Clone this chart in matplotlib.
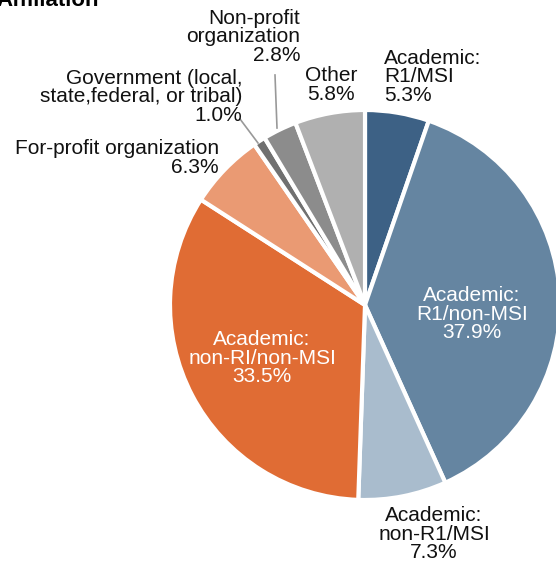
import matplotlib
matplotlib.use("Agg")
import matplotlib.pyplot as plt

plt.rcParams['font.family'] = ['Liberation Sans', 'DejaVu Sans']

labels = ["Academic:\nR1/MSI", "Academic:\nR1/non-MSI", "Academic:\nnon-R1/MSI",
          "Academic:\nnon-RI/non-MSI", "For-profit organization",
          "Government (local,\nstate,federal, or tribal)", "Non-profit\norganization", "Other"]
values = [5.3, 37.9, 7.3, 33.5, 6.3, 1.0, 2.8, 5.8]
colors = ["#3d6185", "#6585a1", "#a9bccd", "#e06c34", "#ea9a73", "#707070", "#8c8c8c", "#b0b0b0"]

W, H = 556, 564
CX, CY, R = 365, 305, 195

fig = plt.figure(figsize=(W / 100, H / 100), dpi=100)
ax = fig.add_axes([0, 0, 1, 1])
ax.pie(values, colors=colors, startangle=90, counterclock=False, radius=1,
       wedgeprops=dict(edgecolor="white", linewidth=3))
ax.set_xlim(-CX / R, (W - CX) / R)
ax.set_ylim(-(H - CY) / R, CY / R)
ax.set_aspect("equal")
ax.axis("off")


def P(px, py):
    return (px - CX) / R, (CY - py) / R


fs = 15
ls = 0.95
dark = "#111111"
lab = [f"{l}\n{v:.1f}%" for l, v in zip(labels, values)]
ax.text(*P(384, 77), lab[0], ha="left", va="center", fontsize=fs, color=dark, linespacing=ls)
ax.text(*P(472, 314), lab[1], ha="center", va="center", fontsize=fs, color="white", linespacing=ls)
ax.text(*P(434, 534), lab[2], ha="center", va="center", fontsize=fs, color=dark, linespacing=ls)
ax.text(*P(262, 358), lab[3], ha="center", va="center", fontsize=fs, color="white", linespacing=ls)
ax.text(*P(219, 158), lab[4], ha="right", va="center", fontsize=fs, color=dark, linespacing=ls, multialignment="right")
ax.text(*P(242, 97), lab[5], ha="right", va="center", fontsize=fs, color=dark, linespacing=ls, multialignment="right")
ax.text(*P(300, 37), lab[6], ha="right", va="center", fontsize=fs, color=dark, linespacing=ls, multialignment="right")
ax.text(*P(331, 85), lab[7], ha="center", va="center", fontsize=fs, color=dark, linespacing=ls)

# leader lines
ax.plot(*zip(P(240, 119), P(258, 143)), color="#999999", lw=1.2)
ax.plot(*zip(P(275, 75), P(277, 128)), color="#999999", lw=1.2)

# clipped title (cut off at the top edge, as in the reference)
ax.text(*P(-4, 6), "Affiliation", ha="left", va="baseline", fontsize=16, fontweight="bold", color="black")

fig.savefig("out.png", dpi=100)
